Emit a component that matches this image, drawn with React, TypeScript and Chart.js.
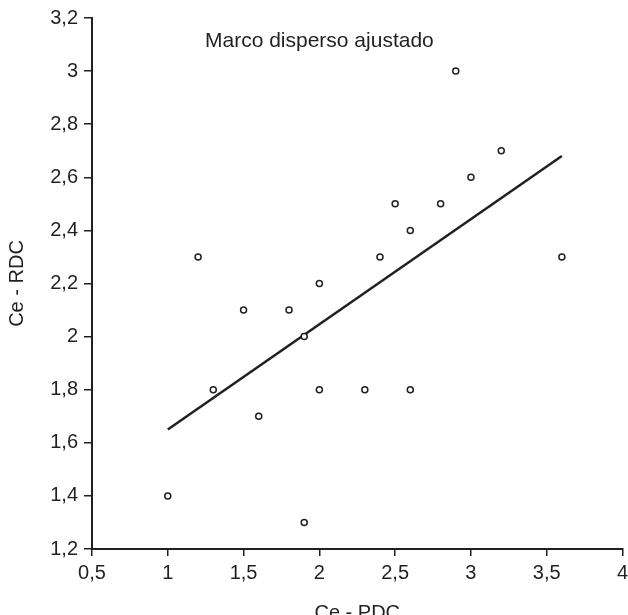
import React, { useEffect, useRef } from "react";
import { Chart, registerables } from "chart.js";

Chart.register(...registerables);

const pdc = [1.0, 1.2, 1.3, 1.5, 1.6, 1.8, 1.9, 1.9, 2.0, 2.0, 2.3, 2.4, 2.5, 2.6, 2.6, 2.8, 2.9, 3.0, 3.2, 3.6];
const rdc = [1.4, 2.3, 1.8, 2.1, 1.7, 2.1, 2.0, 1.3, 2.2, 1.8, 1.8, 2.3, 2.5, 2.4, 1.8, 2.5, 3.0, 2.6, 2.7, 2.3];
const fitX = [1.0, 3.6];
const fitY = [1.65, 2.68];

const xTicks = [0.5, 1, 1.5, 2, 2.5, 3, 3.5, 4];
const xTickLabels = ["0,5", "1", "1,5", "2", "2,5", "3", "3,5", "4"];
const yTicks = [1.2, 1.4, 1.6, 1.8, 2, 2.2, 2.4, 2.6, 2.8, 3, 3.2];
const yTickLabels = ["1,2", "1,4", "1,6", "1,8", "2", "2,2", "2,4", "2,6", "2,8", "3", "3,2"];

const chartTitle = "Marco disperso ajustado";
const xTitle = "Ce - PDC";
const yTitle = "Ce - RDC";

const INK = "#231f20";
const FONT = "'Liberation Sans', Arial, sans-serif";

export default function App() {
  const ref = useRef<HTMLCanvasElement>(null);

  useEffect(() => {
    document.body.style.margin = "0";
    const canvas = ref.current;
    if (!canvas) return;

    const titlePlugin = {
      id: "innerTitle",
      afterDraw(chart: any) {
        const { ctx, scales } = chart;
        const x = scales.x.getPixelForValue(2.0);
        const y = scales.y.top + 28.5;
        ctx.save();
        ctx.font = `21px ${FONT}`;
        ctx.fillStyle = INK;
        ctx.textAlign = "center";
        ctx.textBaseline = "alphabetic";
        ctx.fillText(chartTitle, x, y);
        ctx.restore();
      },
    };

    const chart = new Chart(canvas, {
      type: "scatter",
      data: {
        datasets: [
          {
            label: "Ce",
            data: pdc.map((x, i) => ({ x, y: rdc[i] })),
            pointRadius: 3,
            pointBorderWidth: 1.5,
            pointBorderColor: INK,
            pointBackgroundColor: "#ffffff",
            showLine: false,
          },
          {
            label: "Ajuste",
            data: fitX.map((x, i) => ({ x, y: fitY[i] })),
            showLine: true,
            borderColor: INK,
            borderWidth: 2.5,
            pointRadius: 0,
            fill: false,
          },
        ],
      },
      options: {
        responsive: false,
        animation: false,
        layout: { padding: { top: 18, right: 5, left: 0, bottom: 0 } },
        plugins: {
          legend: { display: false },
          tooltip: { enabled: false },
          title: { display: false },
        },
        scales: {
          x: {
            type: "linear",
            min: 0.5,
            max: 4,
            afterBuildTicks: (scale: any) => {
              scale.ticks = xTicks.map((v) => ({ value: v }));
            },
            afterFit: (scale: any) => {
              scale.height = 66;
              scale.paddingLeft = 0;
              scale.paddingRight = 0;
            },
            ticks: {
              autoSkip: false,
              maxRotation: 0,
              padding: 5,
              color: INK,
              font: { family: FONT, size: 20 },
              callback: (_v: any, i: number) => xTickLabels[i],
            },
            grid: {
              drawOnChartArea: false,
              drawTicks: true,
              tickLength: 7,
              color: INK,
              lineWidth: 1.5,
            },
            border: { display: true, color: INK, width: 2 },
            title: {
              display: true,
              text: xTitle,
              color: INK,
              font: { family: FONT, size: 20 },
              padding: { top: 0, bottom: -10 },
            },
          },
          y: {
            type: "linear",
            min: 1.2,
            max: 3.2,
            afterBuildTicks: (scale: any) => {
              scale.ticks = yTicks.map((v) => ({ value: v }));
            },
            afterFit: (scale: any) => {
              scale.width = 92;
              scale.paddingTop = 0;
              scale.paddingBottom = 0;
            },
            ticks: {
              autoSkip: false,
              padding: 6,
              color: INK,
              font: { family: FONT, size: 20 },
              callback: (_v: any, i: number) => yTickLabels[i],
            },
            grid: {
              drawOnChartArea: false,
              drawTicks: true,
              tickLength: 8,
              color: INK,
              lineWidth: 1.5,
            },
            border: { display: true, color: INK, width: 2 },
            title: {
              display: true,
              text: yTitle,
              color: INK,
              font: { family: FONT, size: 20 },
              padding: { top: 5.5, bottom: 0 },
            },
          },
        },
      },
      plugins: [titlePlugin],
    });

    return () => chart.destroy();
  }, []);

  return (
    <canvas
      ref={ref}
      width={628}
      height={615}
      style={{ display: "block", width: 628, height: 615 }}
    />
  );
}
